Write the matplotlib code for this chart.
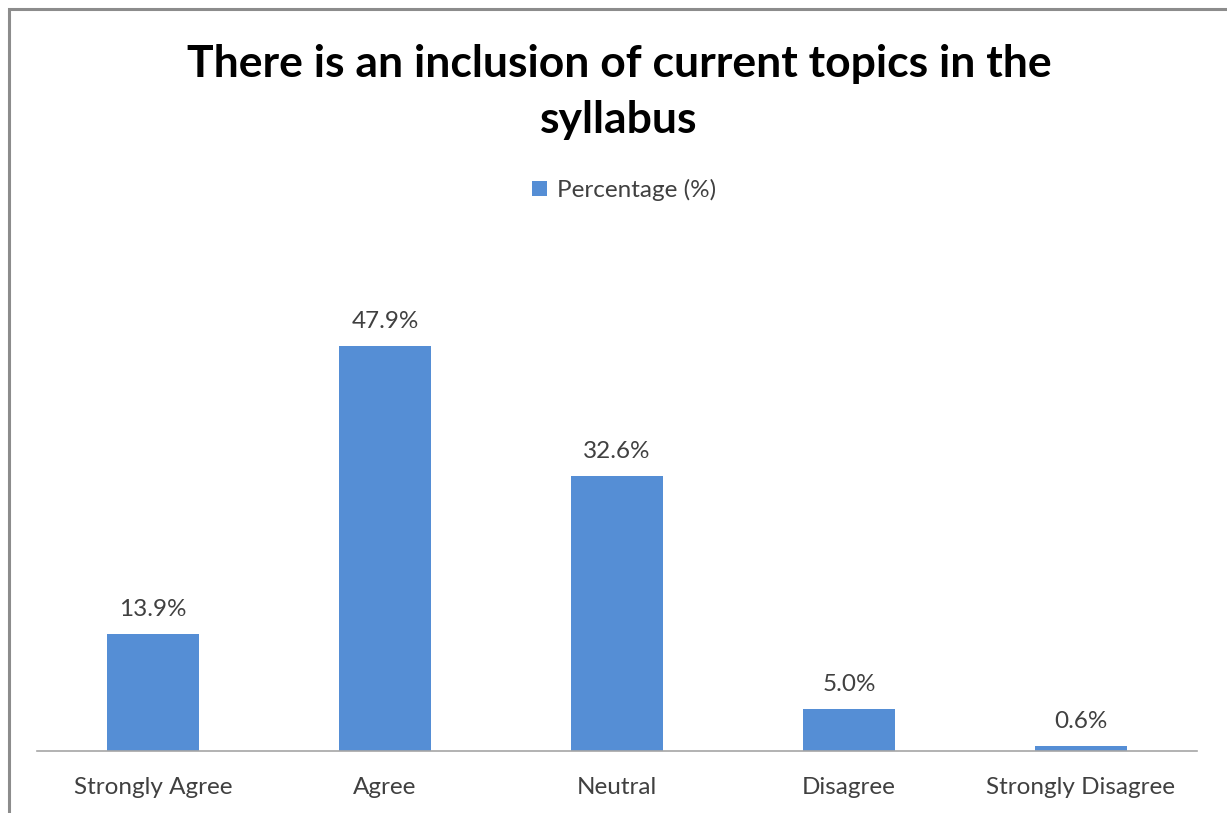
import matplotlib
matplotlib.use("Agg")
import matplotlib.pyplot as plt
from matplotlib.patches import Rectangle

categories = ["Strongly Agree", "Agree", "Neutral", "Disagree", "Strongly Disagree"]
percentages = [13.9, 47.9, 32.6, 5.0, 0.6]
series_name = "Percentage (%)"
title = "There is an inclusion of current topics in the\nsyllabus"

W, H = 1227, 813
fig = plt.figure(figsize=(W / 100, H / 100), dpi=100)
plt.rcParams['font.family'] = ['Lato', 'DejaVu Sans']

# chart frame (runs off the right and bottom edges)
fig.patches.append(Rectangle((9 / W, -0.05), 1.2, 1 - 9 / H + 0.05,
                             transform=fig.transFigure, fill=False,
                             edgecolor="#8c8c8c", linewidth=2.2))

ax = fig.add_axes([37 / W, 1 - 751 / H, (1197 - 37) / W, (751 - 244) / H])
bar_color = "#558ed5"
x = range(len(categories))
bars = ax.bar(x, percentages, width=0.4, color=bar_color, label=series_name, zorder=2)
ax.set_xlim(-0.5, len(categories) - 0.5)
ax.set_ylim(0, 60)

label_size = 17.5
for b, v in zip(bars, percentages):
    ax.annotate(f"{v:.1f}%", (b.get_x() + b.get_width() / 2, v),
                xytext=(0, 10), textcoords="offset points",
                ha="center", va="bottom", fontsize=label_size, color="#404040")

ax.set_xticks(list(x))
ax.set_xticklabels(categories, fontsize=label_size, color="#404040")
ax.tick_params(axis="x", length=0, pad=19)
ax.set_yticks([])
for s in ["top", "right", "left"]:
    ax.spines[s].set_visible(False)
ax.spines["bottom"].set_color("#a6a6a6")
ax.spines["bottom"].set_linewidth(1.2)

fig.text(619 / W, 1 - 92 / H, title, ha="center", va="center",
         fontsize=32, fontweight="bold", color="black", linespacing=1.5)

fig.legend(handles=[bars], labels=[series_name], loc="center",
           bbox_to_anchor=(624 / W, 1 - 190 / H), frameon=False,
           fontsize=label_size, handlelength=0.6, handleheight=0.6,
           handletextpad=0.4, labelcolor="#404040")

fig.savefig("out.png", dpi=100, facecolor="white")
